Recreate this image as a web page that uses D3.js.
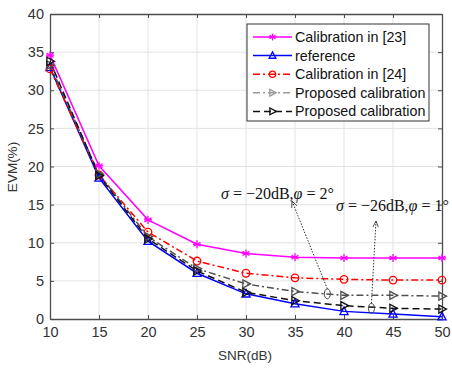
<!DOCTYPE html>
<html><head><meta charset="utf-8">
<script src="https://cdn.jsdelivr.net/npm/d3@7"></script>
<style>body{margin:0;background:#fff}svg{display:block}</style>
</head><body><svg id="c" width="452" height="369"></svg>
<script>
const snr = [10,15,20,25,30,35,40,45,50];
const cal23 = [34.6,20.1,13.0,9.8,8.6,8.1,8.0,8.0,8.0];
const reference = [33.0,18.5,10.2,6.0,3.3,2.0,1.0,0.65,0.3];
const cal24 = [32.8,18.9,11.4,7.6,6.0,5.4,5.2,5.1,5.1];
const prop20 = [33.3,19.0,10.8,6.6,4.6,3.6,3.1,3.1,3.0];
const prop26 = [33.8,18.8,10.5,6.3,3.5,2.4,1.75,1.4,1.3];
const xTicks = [10,15,20,25,30,35,40,45,50];
const yTicks = [0,5,10,15,20,25,30,35,40];
const legendLabels = ["Calibration in [23]","reference","Calibration in [24]","Proposed calibration","Proposed calibration"];
const annotations = [
  {sym1:"σ", mid:" = −20dB,", sym2:"φ", end:" = 2°", at:[38.3,3.3]},
  {sym1:"σ", mid:" = −26dB,", sym2:"φ", end:" = 1°", at:[42.8,1.4]}
];

const svg = d3.select("#c");
const x = d3.scaleLinear().domain([10,50]).range([50,442]);
const y = d3.scaleLinear().domain([0,40]).range([319,14]);

// grid
svg.append("g").selectAll("line").data(xTicks.slice(1,-1)).join("line")
  .attr("x1",d=>x(d)).attr("x2",d=>x(d)).attr("y1",y(0)).attr("y2",y(40))
  .attr("stroke","#e3e3e3").attr("stroke-width",1);
svg.append("g").selectAll("line").data(yTicks.slice(1,-1)).join("line")
  .attr("y1",d=>y(d)).attr("y2",d=>y(d)).attr("x1",x(10)).attr("x2",x(50))
  .attr("stroke","#e3e3e3").attr("stroke-width",1);

// axes
const axCol = "#4d4d4d";
svg.append("g").attr("transform",`translate(0,${y(0)})`)
  .call(d3.axisBottom(x).tickValues(xTicks).tickSizeInner(-4).tickSizeOuter(0).tickPadding(8));
svg.append("g").attr("transform",`translate(${x(10)},0)`)
  .call(d3.axisLeft(y).tickValues(yTicks).tickSizeInner(-4).tickSizeOuter(0).tickPadding(6));
svg.append("g").attr("transform",`translate(0,${y(40)})`)
  .call(d3.axisTop(x).tickValues(xTicks).tickSizeInner(-4).tickSizeOuter(0).tickFormat(""));
svg.append("g").attr("transform",`translate(${x(50)},0)`)
  .call(d3.axisRight(y).tickValues(yTicks).tickSizeInner(-4).tickSizeOuter(0).tickFormat(""));
svg.selectAll(".domain").attr("stroke",axCol).attr("stroke-width",1.3);
svg.selectAll(".tick line").attr("stroke",axCol);
svg.selectAll(".tick text").attr("fill","#333").style("font-family","Liberation Sans, Arial").style("font-size","14.5px");

svg.append("text").attr("x",245).attr("y",360).attr("text-anchor","middle")
  .style("font-family","Liberation Sans, Arial").style("font-size","13.5px").attr("fill","#333").text("SNR(dB)");
svg.append("text").attr("transform","translate(17,167) rotate(-90)").attr("text-anchor","middle")
  .style("font-family","Liberation Sans, Arial").style("font-size","13.5px").attr("fill","#333").text("EVM(%)");

const series = [
  {vals:cal23, color:"#ff00ff", dash:null, marker:"star"},
  {vals:reference, color:"#0000ff", dash:null, marker:"tri"},
  {vals:cal24, color:"#ff0000", dash:"7,3,2,3", marker:"circle"},
  {vals:prop20, color:"#505050", dash:"7,3,2,3", marker:"rtri"},
  {vals:prop26, color:"#111111", dash:"7,4", marker:"rtri"}
];

function drawMarker(g, type, cx, cy, color, k){
  k = k || 1;
  if(type==="star"){
    const r=4.5*k;
    for(const a of [0,60,120]){
      const t=a*Math.PI/180;
      g.append("line").attr("x1",cx-r*Math.sin(t)).attr("y1",cy-r*Math.cos(t))
        .attr("x2",cx+r*Math.sin(t)).attr("y2",cy+r*Math.cos(t)).attr("stroke",color).attr("stroke-width",1.3);
    }
    g.append("line").attr("x1",cx-r).attr("x2",cx+r).attr("y1",cy).attr("y2",cy).attr("stroke",color).attr("stroke-width",1.3);
  } else if(type==="tri"){
    g.append("path").attr("d",`M${cx},${cy-5*k}L${cx+4.5*k},${cy+3.5*k}L${cx-4.5*k},${cy+3.5*k}Z`)
      .attr("fill","none").attr("stroke",color).attr("stroke-width",1.3);
  } else if(type==="circle"){
    g.append("circle").attr("cx",cx).attr("cy",cy).attr("r",4.2*k)
      .attr("fill","none").attr("stroke",color).attr("stroke-width",1.3);
  } else if(type==="rtri"){
    g.append("path").attr("d",`M${cx+5*k},${cy}L${cx-3.5*k},${cy-4.5*k}L${cx-3.5*k},${cy+4.5*k}Z`)
      .attr("fill","none").attr("stroke",color).attr("stroke-width",1.3);
  }
}

const line = d3.line().x(d=>x(d[0])).y(d=>y(d[1]));
const plot = svg.append("g");
series.forEach(s=>{
  const pts = snr.map((v,i)=>[v,s.vals[i]]);
  plot.append("path").attr("d",line(pts)).attr("fill","none").attr("stroke",s.color)
    .attr("stroke-width",1.5).attr("stroke-dasharray",s.dash);
});
series.forEach(s=>{
  const g = plot.append("g");
  snr.forEach((v,i)=>drawMarker(g,s.marker,x(v),y(s.vals[i]),s.color,0.9));
});

// annotations
svg.append("defs").append("marker").attr("id","ah").attr("viewBox","0 0 10 10")
  .attr("refX",9).attr("refY",5).attr("markerWidth",7).attr("markerHeight",7).attr("orient","auto-start-reverse")
  .append("path").attr("d","M0,1L9,5L0,9").attr("fill","none").attr("stroke","#333").attr("stroke-width",1.2);
const tips = [[292,201],[376,221]];
const textPos = [[221,199],[336,211]];
annotations.forEach((a,i)=>{
  const px=x(a.at[0]), py=y(a.at[1]);
  svg.append("ellipse").attr("cx",px).attr("cy",py).attr("rx",3).attr("ry",5)
    .attr("fill","none").attr("stroke","#444").attr("stroke-width",1);
  svg.append("line").attr("x1",px).attr("y1",py-5).attr("x2",tips[i][0]).attr("y2",tips[i][1])
    .attr("stroke","#333").attr("stroke-width",1).attr("stroke-dasharray","1.5,1.5").attr("marker-end","url(#ah)");
  const t = svg.append("text").attr("x",textPos[i][0]).attr("y",textPos[i][1])
    .style("font-family","Liberation Serif, Times New Roman").style("font-size","16px").attr("fill","#111");
  t.append("tspan").style("font-style","italic").text(a.sym1);
  t.append("tspan").text(a.mid);
  t.append("tspan").style("font-style","italic").text(a.sym2);
  t.append("tspan").text(a.end);
});

// legend
const lg = svg.append("g");
lg.append("rect").attr("x",247).attr("y",24).attr("width",182).attr("height",97)
  .attr("fill","#fff").attr("stroke","#333").attr("stroke-width",1);
const legColors = ["#ff00ff","#0000ff","#ff0000","#999999","#111111"];
series.forEach((s,i)=>{
  const yy = 37 + i*18.6;
  lg.append("line").attr("x1",253).attr("x2",292).attr("y1",yy).attr("y2",yy)
    .attr("stroke",legColors[i]).attr("stroke-width",1.5).attr("stroke-dasharray",s.dash);
  drawMarker(lg,s.marker,272.5,yy,legColors[i],0.75);
  lg.append("text").attr("x",295).attr("y",yy+5).style("font-family","Liberation Sans, Arial")
    .style("font-size","14.3px").attr("fill","#111").text(legendLabels[i]);
});
</script></body></html>
